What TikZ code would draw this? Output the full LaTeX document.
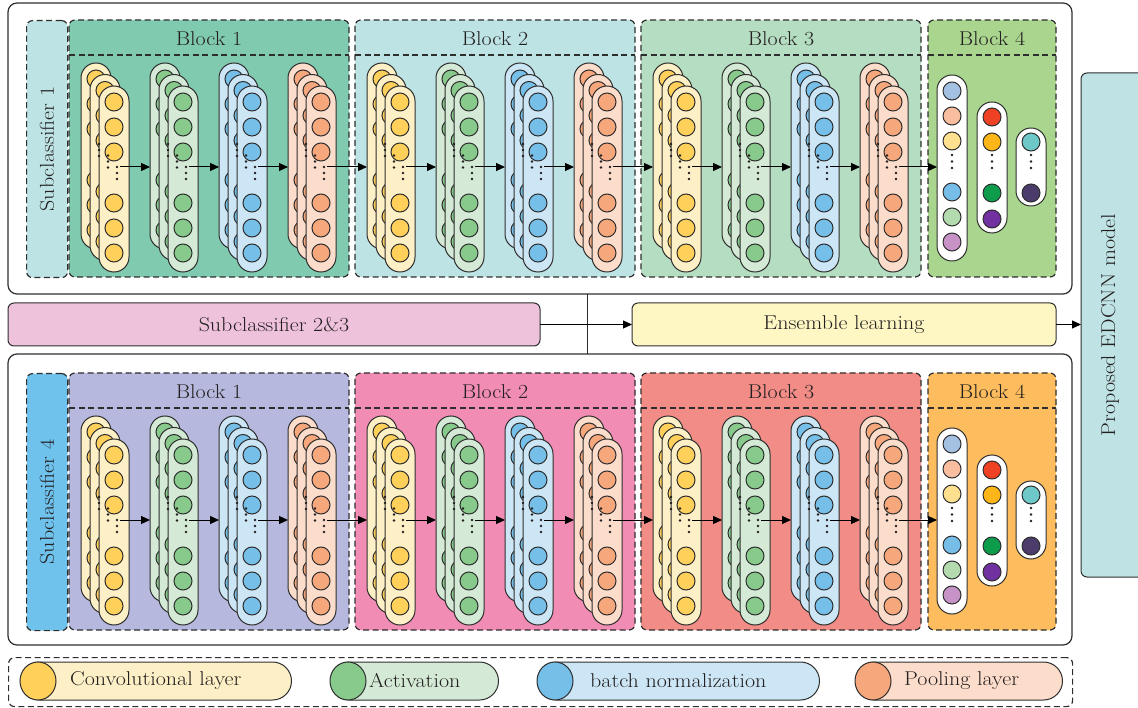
\documentclass[tikz,border=0pt]{standalone}
\usepackage{fontspec}
\setmainfont{Latin Modern Roman}[FakeStretch=1.1]
\usetikzlibrary{arrows.meta,calc}
\definecolor{lnc}{HTML}{2E2E2E}
\definecolor{txtc}{HTML}{231F20}
\definecolor{convP}{HTML}{FEF0C6}
\definecolor{convC}{HTML}{FFD05A}
\definecolor{actP}{HTML}{D4EAD6}
\definecolor{actC}{HTML}{88CA8C}
\definecolor{bnP}{HTML}{CDE6F5}
\definecolor{bnC}{HTML}{76BFE8}
\definecolor{poolP}{HTML}{FCDCCA}
\definecolor{poolC}{HTML}{F7A77C}
\definecolor{tA}{HTML}{80CAAF}
\definecolor{tB}{HTML}{BEE3E4}
\definecolor{tC}{HTML}{B5DDC1}
\definecolor{tD}{HTML}{A9D58E}
\definecolor{uA}{HTML}{B6B9DD}
\definecolor{uB}{HTML}{F18DB4}
\definecolor{uC}{HTML}{F18C87}
\definecolor{uD}{HTML}{FDBD5E}
\definecolor{subA}{HTML}{BEE3E4}
\definecolor{subB}{HTML}{6FC2EC}
\definecolor{pinkc}{HTML}{EFC2DC}
\definecolor{ensc}{HTML}{FEF7C4}
\definecolor{edc}{HTML}{BFE3E4}
\definecolor{kA}{HTML}{A4C1E4}
\definecolor{kB}{HTML}{F9BEA0}
\definecolor{kC}{HTML}{FFE08F}
\definecolor{kD}{HTML}{76BEE7}
\definecolor{kE}{HTML}{B4DAAF}
\definecolor{kF}{HTML}{C792C6}
\definecolor{mA}{HTML}{EF4124}
\definecolor{mB}{HTML}{FDB618}
\definecolor{mC}{HTML}{0C9C4B}
\definecolor{mD}{HTML}{7131A0}
\definecolor{nA}{HTML}{6DC8C7}
\definecolor{nB}{HTML}{4C3C6C}
\tikzset{
  ln/.style={draw=lnc, line width=1pt},
  pill/.style={ln, rounded corners=15pt, minimum width=30pt, minimum height=186pt, inner sep=0pt, outer sep=0pt},
  blockbox/.style={draw=lnc, line width=1.2pt, dash pattern=on 6pt off 3.5pt, rounded corners=6pt},
  blockdash/.style={draw=lnc, line width=1.1pt, dash pattern=on 6pt off 3.5pt},
  frame/.style={draw=lnc, line width=1.2pt, rounded corners=9pt, inner sep=0pt, outer sep=0pt},
  midbox/.style={draw=lnc, line width=1pt, rounded corners=6pt, inner sep=0pt, outer sep=0pt},
  arr/.style={draw=black, line width=1pt, -{Triangle[length=9pt,width=8pt]}},
  txt/.style={text=txtc, font=\fontsize{20}{24}\selectfont, inner sep=0pt},
  dotc/.style={fill=txtc},
}
\newcommand\layerstack[5]{%
  \foreach \k in {0,1,2} {
    \node[pill, fill=#4, anchor=north west] (#1-\k) at (#2+9*\k, #3+11.5*\k) {};
    \foreach \cy in {16,41,66,117,142,167}
      \draw[ln, fill=#5] (#2+9*\k+15, #3+11.5*\k+\cy) circle[radius=9];
  }
  \foreach \k in {0,1,2}
    \foreach \d in {0,6,12}
      \fill[dotc] (#2+9*\k+18, #3+11.5*\k+81+\d) circle[radius=1.4];
  \coordinate (#1-out) at (#2+39, #3+104);
}
\newcommand\legitem[7]{%
  \node[ln, fill=#4, rounded corners=19pt, minimum width=#3pt, minimum height=38pt, inner sep=0pt, anchor=west] (#1) at (#2,681) {};
  \draw[ln, fill=#5] (#2+18,681) ellipse [x radius=18, y radius=19];
  \node[txt, anchor=west] (#1-t) at (#6,681) {#7};
}
\begin{document}
\begin{tikzpicture}[x=1pt,y=-1pt]
\useasboundingbox (0,0) rectangle (1138,708);

% outer frames
\node[frame, minimum width=1064pt, minimum height=291pt, anchor=north west] (topframe) at (8,3) {};
\node[frame, minimum width=1064pt, minimum height=291pt, anchor=north west] (botframe) at (8,354) {};
\node[blockbox, minimum width=1064pt, minimum height=49pt, anchor=north west, inner sep=0pt] (legend) at (8,657) {};

% EDCNN box
\node[midbox, fill=edc, minimum width=75pt, minimum height=504pt, anchor=north west] (edcnn) at (1081,73) {};
\node[txt, rotate=90] (edcnnt) at (1110,325) {Proposed EDCNN model};

% middle row
\coordinate (vx) at (587,0);
\draw[draw=lnc, line width=0.8pt] (vx |- topframe.south) -- (vx |- botframe.north);
\node[midbox, fill=pinkc, minimum width=532pt, minimum height=43pt, anchor=north west] (sub23) at (8,303) {};
\node[txt] (sub23t) at (sub23.center) {Subclassifier 2\&3};
\node[midbox, fill=ensc, minimum width=424pt, minimum height=43pt, anchor=north west] (ens) at (632,303) {};
\node[txt] (enst) at (ens.center) {Ensemble learning};
\draw[arr] (sub23.east) -- (ens.west);
\draw[arr] (ens.east) -- (edcnn.west |- ens.east);

% two rows of subclassifiers
\foreach \row/\ry/\sc/\sctext/\fa/\fb/\fc/\fd in {1/0/subA/Subclassifier 1/tA/tB/tC/tD, 2/353/subB/Subclassifier 4/uA/uB/uC/uD} {
  \node[blockbox, fill=\sc, minimum width=41pt, minimum height=257pt, anchor=north west, inner sep=0pt] (sc\row) at (26,20+\ry) {};
  \node[txt, rotate=90] (sct\row) at (sc\row.center) {\sctext};
  \foreach \b/\bx/\bw/\bf in {1/69/280/\fa, 2/355/280/\fb, 3/641/280/\fc, 4/928/128/\fd} {
    \draw[blockbox, fill=\bf] (\bx,20+\ry) rectangle ++(\bw,257);
    \draw[blockdash] (\bx,55+\ry) -- ++(\bw,0);
    \node[txt] (title\row-\b) at (\bx+\bw/2, 39+\ry) {Block \b};
  }
  \foreach \b/\bx in {0/69,1/355,2/641} {
    \foreach \pc/\cc [count=\i from 0] in {convP/convC, actP/actC, bnP/bnC, poolP/poolC} {
      \pgfmathtruncatemacro\n{4*\b+\i}
      \layerstack{R\row-\n}{\bx+12+69*\i}{\ry+63}{\pc}{\cc}
    }
  }
  % block 4 output columns
  \node[pill, fill=white, anchor=north west] (Ba\row) at (937,75+\ry) {};
  \node[pill, fill=white, minimum height=131pt, anchor=north west] (Bb\row) at (977,102+\ry) {};
  \node[pill, fill=white, minimum height=78pt, anchor=north west] (Bc\row) at (1016,128+\ry) {};
  \foreach \cy/\cl in {91/kA, 116/kB, 141/kC, 192/kD, 217/kE, 242/kF}
    \draw[ln, fill=\cl] (952,\cy+\ry) circle[radius=9];
  \foreach \cy/\cl in {117/mA, 142/mB, 193/mC, 219/mD}
    \draw[ln, fill=\cl] (992,\cy+\ry) circle[radius=9];
  \foreach \cy/\cl in {142/nA, 193/nB}
    \draw[ln, fill=\cl] (1031,\cy+\ry) circle[radius=9];
  \foreach \cx in {952,992,1031}
    \foreach \d in {155,161.5,168}
      \fill[dotc] (\cx,\d+\ry) circle[radius=1.4];
  % connectors
  \foreach \n [evaluate=\n as \m using int(\n+1)] in {0,...,10}
    \draw[arr] (R\row-\n-out) -- (R\row-\m-0.west |- R\row-\n-out);
  \draw[arr] (R\row-11-out) -- (Ba\row.west |- R\row-11-out);
}

% legend
\legitem{lconv}{20}{271}{convP}{convC}{70}{Convolutional layer}
\legitem{lact}{330}{168}{actP}{actC}{369}{Activation}
\legitem{lbn}{537}{282}{bnP}{bnC}{590}{batch normalization}
\legitem{lpool}{855}{207}{poolP}{poolC}{904}{Pooling layer}
\end{tikzpicture}
\end{document}
